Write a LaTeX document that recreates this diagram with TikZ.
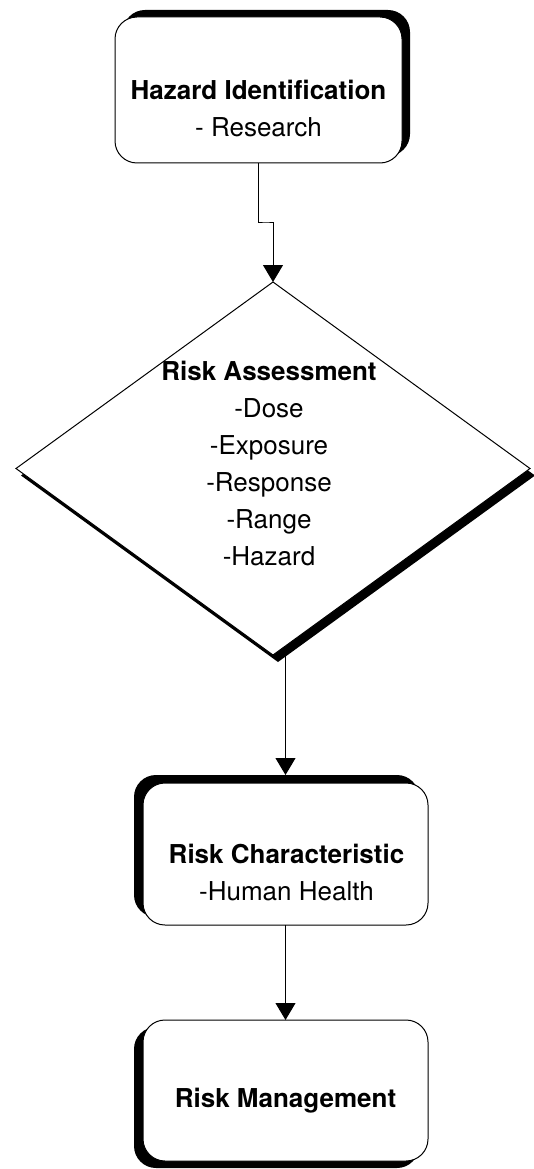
\documentclass[tikz,border=0pt]{standalone}
\usepackage{fontspec}
\setmainfont{TeX Gyre Heros}
\usetikzlibrary{arrows.meta, shapes.geometric, shadows}

\begin{document}
\begin{tikzpicture}[
    stage/.style={draw=black, line width=1pt, fill=white, rounded corners=22pt, inner sep=0pt, outer sep=0pt},
    gate/.style={diamond, draw=black, line width=1pt, fill=white, inner sep=0pt, outer sep=0pt},
    txt/.style={font=\fontsize{26}{37}\selectfont, align=center, anchor=base, inner sep=0pt},
    link/.style={-{Triangle[length=17pt, width=20pt]}, line width=1pt},
    x=1pt, y=-1pt]

    \useasboundingbox (0,0) rectangle (534,1169);

    % ================= hazard identification =================
    \node[stage, minimum width=287pt, minimum height=146pt,
          general shadow={fill=black, shadow xshift=8pt, shadow yshift=7pt}] (haz) at (258.5, 90) {};
    \node[txt] (haztext) at (258.5, 137) {\textbf{Hazard Identification}\\- Research};

    % ================= risk assessment =================
    \node[gate, minimum width=514pt, minimum height=373pt,
          general shadow={fill=black, shadow xshift=5pt, shadow yshift=-7pt}] (assess) at (273, 468.5) {};
    \node[txt] (assesstext) at (269, 565)
        {\textbf{Risk Assessment}\\-Dose\\-Exposure\\-Response\\-Range\\-Hazard};

    % ================= risk characteristic =================
    \node[stage, minimum width=285pt, minimum height=142pt,
          general shadow={fill=black, shadow xshift=-9pt, shadow yshift=8pt}] (rc) at (285.5, 854) {};
    \node[txt] (rctext) at (286.5, 900) {\textbf{Risk Characteristic}\\-Human Health};

    % ================= risk management =================
    \node[stage, minimum width=285pt, minimum height=141pt,
          general shadow={fill=black, shadow xshift=-9pt, shadow yshift=-7pt}] (rm) at (285.5, 1090.5) {};
    \node[txt] (rmtext) at (285.5, 1107) {\textbf{Risk Management}};

    % the flow from one stage to the next -
    \coordinate (jog) at (266, 222);
    \draw[link] (haz.south) |- (jog) -| (assess.north);
    \draw[link] (assess.south -| rc.north) -- ([yshift=8pt]rc.north);
    \draw[link] (rc.south) -- (rm.north);
\end{tikzpicture}
\end{document}
